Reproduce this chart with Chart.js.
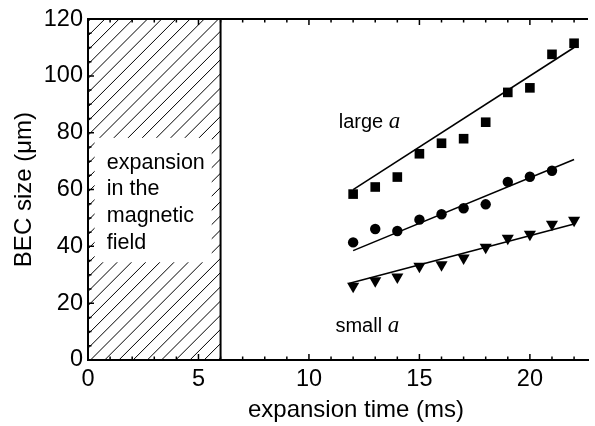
<!DOCTYPE html>
<html>
<head>
<meta charset="utf-8">
<script src="https://cdn.jsdelivr.net/npm/chart.js@4/dist/chart.umd.min.js"></script>
<style>
html,body{margin:0;padding:0;background:#fff;}
#wrap{width:595px;height:426px;position:relative;}
</style>
</head>
<body>
<div id="wrap"><canvas id="c"></canvas></div>
<script>
// ---- data ----
const timesLarge = [12,13,14,15,16,17,18,19,20,21,22];
const sizeLarge  = [58.4,60.9,64.4,72.6,76.3,77.9,83.7,94.2,95.8,107.6,111.5];
const timesMid   = [12,13,14,15,16,17,18,19,20,21];
const sizeMid    = [41.4,46.1,45.4,49.4,51.3,53.4,54.8,62.7,64.5,66.6];
const timesSmall = [12,13,14,15,16,17,18,19,20,21,22];
const sizeSmall  = [26.0,27.9,29.2,33.0,33.5,35.9,39.7,42.9,44.3,47.8,49.2];
const fitLargeX  = [12,22];
const fitLargeY  = [60.0,110.0];
const fitMidX    = [12,22];
const fitMidY    = [38.5,70.6];
const fitSmallX  = [11.8,22];
const fitSmallY  = [26.9,47.9];
const xTicks = [0,5,10,15,20];
const yTicks = [0,20,40,60,80,100,120];
const hatchRange = [0,6];
const boxText = ['expansion','in the','magnetic','field'];
const labelLarge = ['large ','a'];
const labelSmall = ['small ','a'];
const xTitle = 'expansion time (ms)';
const yTitle = 'BEC size (μm)';

const toPts = (xs, ys) => xs.map((x,i)=>({x:x, y:ys[i]}));

const FONT = "'Liberation Sans', Arial, sans-serif";

const deco = {
  id: 'deco',
  beforeDatasetsDraw(chart){
    const {ctx, chartArea:a, scales:{x,y}} = chart;
    const x0 = x.getPixelForValue(hatchRange[0]);
    const x1 = x.getPixelForValue(hatchRange[1]);
    ctx.save();
    ctx.beginPath();
    ctx.rect(x0, a.top, x1-x0, a.bottom-a.top);
    ctx.clip();
    ctx.strokeStyle = '#000';
    ctx.lineWidth = 1;
    ctx.beginPath();
    const step = 14.2;
    for (let c = x0 + a.top - 40; c < x1 + a.bottom + 40; c += step) {
      ctx.moveTo(c - a.top, a.top);
      ctx.lineTo(c - a.bottom, a.bottom);
    }
    ctx.stroke();
    // white label box
    const bx0 = x.getPixelForValue(0.3), bx1 = x.getPixelForValue(5.6);
    const by0 = y.getPixelForValue(78.2), by1 = y.getPixelForValue(34.4);
    ctx.fillStyle = '#fff';
    ctx.fillRect(bx0, by0, bx1-bx0, by1-by0);
    ctx.restore();
  },
  afterDraw(chart){
    const {ctx, chartArea:a, scales:{x,y}} = chart;
    ctx.save();
    ctx.strokeStyle = '#000';
    // top frame line
    ctx.lineWidth = 2;
    ctx.beginPath();
    ctx.moveTo(a.left-1, a.top); ctx.lineTo(a.right, a.top);
    ctx.stroke();
    // vertical line at end of hatch
    const xv = x.getPixelForValue(hatchRange[1]);
    ctx.beginPath();
    ctx.moveTo(xv, a.top); ctx.lineTo(xv, a.bottom);
    ctx.stroke();
    // inward ticks
    ctx.lineWidth = 1.5;
    ctx.beginPath();
    for (let v = 1; v <= 22; v++) {
      const px = x.getPixelForValue(v);
      const len = (v % 5 === 0) ? 6 : 3.5;
      ctx.moveTo(px, a.bottom); ctx.lineTo(px, a.bottom - len);
      ctx.moveTo(px, a.top); ctx.lineTo(px, a.top + len);
    }
    for (let v = 5; v < 120; v += 5) {
      const py = y.getPixelForValue(v);
      const len = (v % 20 === 0) ? 6 : 3.5;
      ctx.moveTo(a.left, py); ctx.lineTo(a.left + len, py);
    }
    ctx.stroke();
    // texts
    ctx.fillStyle = '#000';
    ctx.textBaseline = 'alphabetic';
    ctx.textAlign = 'left';
    ctx.font = "21.5px " + FONT;
    const bl = [67.3, 58.0, 48.7, 39.2];
    boxText.forEach((t,i)=>{
      ctx.fillText(t, x.getPixelForValue(0.85), y.getPixelForValue(bl[i]));
    });
    const drawLbl = (parts, xv, yv) => {
      const px = x.getPixelForValue(xv), py = y.getPixelForValue(yv);
      ctx.font = "20px " + FONT;
      ctx.fillText(parts[0], px, py);
      const w = ctx.measureText(parts[0]).width;
      ctx.font = "italic 23px 'Liberation Serif', 'Times New Roman', serif";
      ctx.fillText(parts[1], px + w, py);
    };
    drawLbl(labelLarge, 11.35, 81.7);
    drawLbl(labelSmall, 11.2, 9.9);
    // x axis title (the original axis runs past the cropped right edge)
    ctx.font = "24px " + FONT;
    ctx.textAlign = 'center';
    ctx.fillText(xTitle, 356, 417);
    ctx.restore();
  }
};

const ptStyle = {showLine:false, borderWidth:0, backgroundColor:'#000', borderColor:'#000'};
const fitStyle = {showLine:true, pointRadius:0, borderColor:'#000', borderWidth:1.6, fill:false};

new Chart(document.getElementById('c'), {
  type: 'scatter',
  data: {
    datasets: [
      Object.assign({label:'large a', data: toPts(timesLarge,sizeLarge), pointStyle:'rect', pointRadius:6.8}, ptStyle),
      Object.assign({label:'mid', data: toPts(timesMid,sizeMid), pointStyle:'circle', pointRadius:5.2}, ptStyle),
      Object.assign({label:'small a', data: toPts(timesSmall,sizeSmall), pointStyle:'triangle', pointRadius:7, rotation:180}, ptStyle),
      Object.assign({label:'fit large', data: toPts(fitLargeX,fitLargeY)}, fitStyle),
      Object.assign({label:'fit mid', data: toPts(fitMidX,fitMidY)}, fitStyle),
      Object.assign({label:'fit small', data: toPts(fitSmallX,fitSmallY)}, fitStyle)
    ]
  },
  options: {
    responsive: true,
    maintainAspectRatio: false,
    animation: false,
    devicePixelRatio: 1,
    layout: {padding: {top: 17.5, right: 0, left: 0, bottom: 0}},
    plugins: {legend:{display:false}, tooltip:{enabled:false}},
    scales: {
      x: {
        type: 'linear',
        min: 0, max: 22.63,
        grid: {display:false, drawTicks:false},
        border: {display:true, color:'#000', width:2},
        afterBuildTicks: s => { s.ticks = xTicks.map(v=>({value:v})); },
        afterFit: s => { s.height = 66; },
        ticks: {color:'#000', padding:5, maxRotation:0, font:{family:FONT, size:23.5}},
        title: {display:false}
      },
      y: {
        type: 'linear',
        min: 0, max: 120,
        grid: {display:false, drawTicks:false},
        border: {display:true, color:'#000', width:2},
        afterBuildTicks: s => { s.ticks = yTicks.map(v=>({value:v})); },
        afterFit: s => { s.width = 88; },
        ticks: {color:'#000', padding:5, font:{family:FONT, size:23.5}},
        title: {display:true, text:yTitle, color:'#000', font:{family:FONT, size:24}, padding:{top:10, bottom:0}}
      }
    }
  },
  plugins: [deco]
});
</script>
</body>
</html>
